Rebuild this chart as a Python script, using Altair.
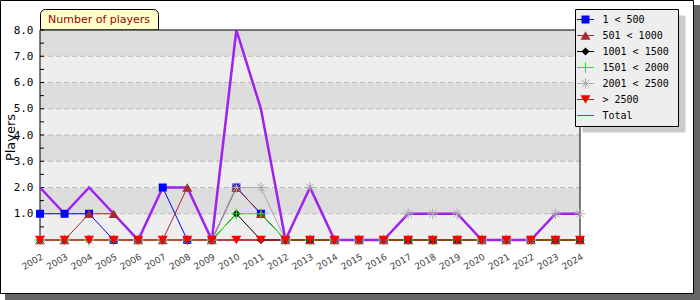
import altair as alt
import pandas as pd

years = [2002, 2003, 2004, 2005, 2006, 2007, 2008, 2009, 2010, 2011, 2012,
         2013, 2014, 2015, 2016, 2017, 2018, 2019, 2020, 2021, 2022, 2023, 2024]

s_1_500 =     [1, 1, 1, 0, 0, 2, 0, 0, 2, 1, 0, 0, 0, 0, 0, 0, 0, 0, 0, 0, 0, 0, 0]
s_501_1000 =  [0, 0, 1, 1, 0, 0, 2, 0, 2, 1, 0, 0, 0, 0, 0, 0, 0, 0, 0, 0, 0, 0, 0]
s_1001_1500 = [0, 0, 0, 0, 0, 0, 0, 0, 1, 0, 0, 0, 0, 0, 0, 0, 0, 0, 0, 0, 0, 0, 0]
s_1501_2000 = [0, 0, 0, 0, 0, 0, 0, 0, 1, 1, 0, 0, 0, 0, 0, 0, 0, 0, 0, 0, 0, 0, 0]
s_2001_2500 = [0, 0, 0, 0, 0, 0, 0, 0, 2, 2, 0, 2, 0, 0, 0, 1, 1, 1, 0, 0, 0, 1, 1]
s_2500_up =   [0, 0, 0, 0, 0, 0, 0, 0, 0, 0, 0, 0, 0, 0, 0, 0, 0, 0, 0, 0, 0, 0, 0]
total =       [2, 1, 2, 1, 0, 2, 2, 0, 8, 5, 0, 2, 0, 0, 0, 1, 1, 1, 0, 0, 0, 1, 1]

series_names = ["1 < 500", "501 < 1000", "1001 < 1500", "1501 < 2000", "2001 < 2500", "> 2500"]
series_values = [s_1_500, s_501_1000, s_1001_1500, s_1501_2000, s_2001_2500, s_2500_up]
series_colors = ["#0000ff", "#a52a2a", "#000000", "#00ff00", "#aaaaaa", "#ff0000"]
PLUS = "M-1,0L1,0M0,-1L0,1"
STAR = "M-1,0L1,0M0,-1L0,1M-0.72,-0.72L0.72,0.72M-0.72,0.72L0.72,-0.72"
series_shapes = ["square", "triangle-up", "diamond", PLUS, STAR, "triangle-down"]
series_filled = [True, True, True, False, False, True]
series_sizes = [64, 100, 64, 110, 110, 100]
total_name = "Total"
total_color = "#a020f0"

band_lo = [0, 1, 2, 3, 4, 5, 6, 7]
band_hi = [1, 2, 3, 4, 5, 6, 7, 8]
band_fill = ["#eeeeee", "#dddddd"] * 4
grid_vals = [1, 2, 3, 4, 5, 6, 7]
ytick_vals = [0.5, 1, 1.5, 2, 2.5, 3, 3.5, 4, 4.5, 5, 5.5, 6, 6.5, 7, 7.5, 8]
y_label_vals = [0, 1, 2, 3, 4, 5, 6, 7, 8]

W, H = 540, 210

rows = []
for name, vals in zip(series_names, series_values):
    for y, v in zip(years, vals):
        rows.append({"year": y, "value": v, "series": name})
df = pd.DataFrame(rows)
df_total = pd.DataFrame({"year": years, "value": total})
df_bands = pd.DataFrame({"lo": band_lo, "hi": band_hi, "fill": band_fill})
df_grid = pd.DataFrame({"g": grid_vals})
df_ticks = pd.DataFrame({"t": ytick_vals})

xscale = alt.Scale(domain=[2002, 2024], nice=False, zero=False)
yscale = alt.Scale(domain=[0, 8], nice=False, zero=True)

xaxis = alt.Axis(values=years, format="d", labelAngle=-30, labelAlign="right",
                 labelBaseline="top", labelFont="DejaVu Sans", labelFontSize=9,
                 labelColor="#444444", labelPadding=12, domain=False, ticks=False,
                 grid=False, title=None, zindex=1, labelOverlap=False)
yaxis = alt.Axis(values=y_label_vals,
                 labelExpr="datum.value == 0 ? '' : format(datum.value, '.1f')",
                 labelFont="DejaVu Sans Mono", labelFontSize=11, labelColor="#000000",
                 labelPadding=7, domain=False, ticks=False, grid=False,
                 title="Players", titleFont="DejaVu Sans", titleFontSize=13,
                 titleFontWeight="normal", titleColor="#000000", titleAngle=-90,
                 titleX=-30, titleY=107, titleAlign="center", titleBaseline="middle",
                 zindex=1)

base = alt.Chart(pd.DataFrame({"d": [0]}))

layers = []
# outer shadow and frame
layers.append(base.mark_rect(fill="#666666").encode(
    x=alt.value(-35), x2=alt.value(660), y=alt.value(-25), y2=alt.value(270)))
layers.append(base.mark_rect(fill="#ffffff", stroke="#000000", strokeWidth=1).encode(
    x=alt.value(-39.5), x2=alt.value(653.5), y=alt.value(-29.5), y2=alt.value(263.5)))
# title tab
layers.append(base.mark_rect(fill="#ffffcc", stroke="#000000", strokeWidth=1,
                             cornerRadiusTopLeft=5, cornerRadiusTopRight=5).encode(
    x=alt.value(0.5), x2=alt.value(118.5), y=alt.value(-20.5), y2=alt.value(0)))
layers.append(base.mark_text(text="Number of players", font="DejaVu Sans", fontSize=11,
                             color="#990000", align="left", baseline="middle").encode(
    x=alt.value(8), y=alt.value(-10)))
# bands
layers.append(alt.Chart(df_bands).mark_rect().encode(
    x=alt.value(0), x2=alt.value(W),
    y=alt.Y("lo:Q", scale=yscale, axis=yaxis), y2="hi:Q",
    fill=alt.Fill("fill:N", scale=None)))
# grid
layers.append(alt.Chart(df_grid).mark_rule(color="#bbbbbb", strokeDash=[5, 3], strokeWidth=1).encode(
    x=alt.value(0), x2=alt.value(W), y=alt.Y("g:Q", scale=yscale, axis=yaxis)))
# plot border
layers.append(base.mark_rect(fillOpacity=0, stroke="#000000", strokeWidth=1).encode(
    x=alt.value(0), x2=alt.value(W), y=alt.value(0), y2=alt.value(H)))
# inward y ticks
layers.append(alt.Chart(df_ticks).mark_rule(color="#000000", strokeWidth=1).encode(
    x=alt.value(0), x2=alt.value(4), y=alt.Y("t:Q", scale=yscale, axis=yaxis)))
# series lines
for name, col in zip(series_names, series_colors):
    layers.append(alt.Chart(df).transform_filter(alt.datum.series == name)
                  .mark_line(color=col, strokeWidth=1).encode(
        x=alt.X("year:Q", scale=xscale, axis=xaxis),
        y=alt.Y("value:Q", scale=yscale, axis=yaxis)))
# total line
layers.append(alt.Chart(df_total).mark_line(color=total_color, strokeWidth=2.5).encode(
    x=alt.X("year:Q", scale=xscale, axis=xaxis),
    y=alt.Y("value:Q", scale=yscale, axis=yaxis)))
# markers
for name, col, shp, fl, sz in zip(series_names, series_colors, series_shapes, series_filled, series_sizes):
    if fl:
        mk = alt.Chart(df).transform_filter(alt.datum.series == name).mark_point(
            shape=shp, filled=True, color=col, size=sz, opacity=1)
    else:
        mk = alt.Chart(df).transform_filter(alt.datum.series == name).mark_point(
            shape=shp, filled=False, color=col, size=sz, strokeWidth=1, opacity=1)
    layers.append(mk.encode(
        x=alt.X("year:Q", scale=xscale, axis=xaxis),
        y=alt.Y("value:Q", scale=yscale, axis=yaxis)))

# legend
LX0, LX1, LY0, LY1 = 535.5, 638.5, -20.5, 96.5
layers.append(base.mark_rect(fill="#cccccc").encode(
    x=alt.value(LX0 + 7), x2=alt.value(LX1 + 7), y=alt.value(LY0 + 6), y2=alt.value(LY1 + 6)))
layers.append(base.mark_rect(fill="#eeeeee", stroke="#000000", strokeWidth=1).encode(
    x=alt.value(LX0), x2=alt.value(LX1), y=alt.value(LY0), y2=alt.value(LY1)))
leg_names = series_names + [total_name]
leg_colors = series_colors + [total_color]
for i, (name, col) in enumerate(zip(leg_names, leg_colors)):
    yy = -10.5 + 16 * i
    layers.append(base.mark_rule(color=col, strokeWidth=1).encode(
        x=alt.value(537), x2=alt.value(554), y=alt.value(yy)))
    if i < len(series_names):
        shp, fl, sz = series_shapes[i], series_filled[i], series_sizes[i]
        if fl:
            pm = base.mark_point(shape=shp, filled=True, color=col, size=sz, opacity=1)
        else:
            pm = base.mark_point(shape=shp, filled=False, color=col, size=sz, strokeWidth=1, opacity=1)
        layers.append(pm.encode(x=alt.value(545.5), y=alt.value(yy)))
    layers.append(base.mark_text(text=name, font="DejaVu Sans Mono", fontSize=10, color="#000000",
                                 align="left", baseline="middle").encode(
        x=alt.value(562.5), y=alt.value(yy)))

chart = alt.layer(*layers).properties(
    width=W, height=H,
    autosize=alt.AutoSizeParams(type="none"),
    padding={"left": 40, "top": 30, "right": 120, "bottom": 60},
    background="white",
).configure_view(stroke=None)

chart.save("out.html", embed_options={"renderer": "svg", "actions": False})
